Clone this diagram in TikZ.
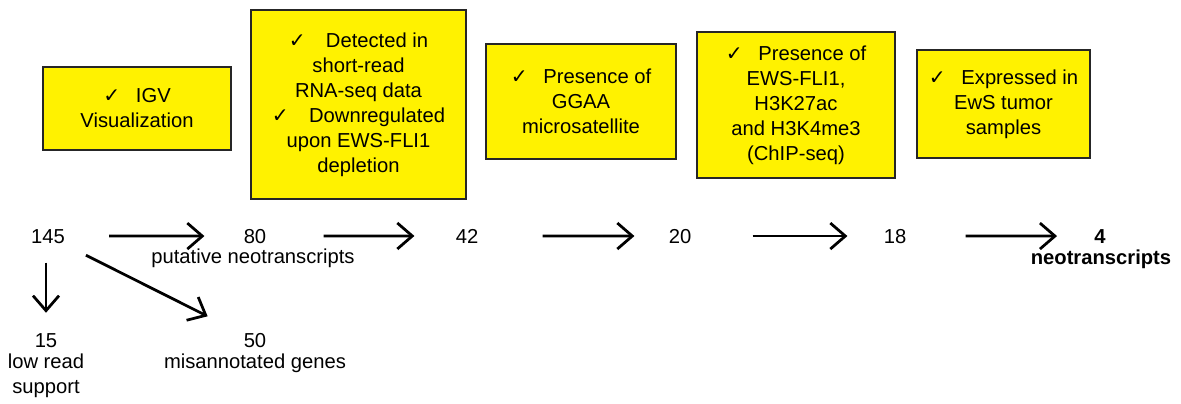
\documentclass[tikz,border=0pt]{standalone}
\usepackage{fontspec}
\setmainfont{Liberation Sans}
\newfontfamily\chkfont{DejaVu Sans}
\usetikzlibrary{arrows.meta}
\newcommand{\chk}{{\chkfont ✓}}

\begin{document}
\begin{tikzpicture}[x=0.02cm,y=-0.02cm,
  font=\fontsize{11.5}{14.2}\selectfont,
  box/.style={draw=black!85,line width=0.04cm,fill=yellow,align=center,inner sep=0cm},
  num/.style={inner sep=0cm,anchor=base},
  flow/.style={line width=0.055cm,-{Straight Barb[length=0.3cm,width=0.52cm]}}]

\useasboundingbox (0,0) rectangle (1181,403);

\draw (137,108.5) node[box,minimum width=3.76cm,minimum height=1.66cm] (igv)
  {\chk\enspace\ IGV\\Visualization};
\draw (358.5,104.5) node[box,minimum width=4.3cm,minimum height=3.78cm] (rnaseq)
  {\chk\quad Detected in\\short-read\\RNA-seq data\\\chk\quad Downregulated\\upon EWS-FLI1\\depletion};
\draw (581,101.5) node[box,minimum width=3.8cm,minimum height=2.3cm] (ggaa)
  {\chk\enspace\ Presence of\\GGAA\\microsatellite};
\draw (796,105) node[box,minimum width=3.96cm,minimum height=2.92cm] (chip)
  {\chk\enspace\ Presence of\\EWS-FLI1,\\H3K27ac\\and H3K4me3\\(ChIP-seq)};
\draw (1003.5,104) node[box,minimum width=3.46cm,minimum height=2.16cm] (tumor)
  {\chk\enspace\ Expressed in\\EwS tumor\\samples};

\draw (48,243) node[num] (n145) {145};
\draw (255,243) node[num] (n80) {80};
\draw (253,263) node[num] (lbl80) {putative neotranscripts};
\draw (467,243) node[num] (n42) {42};
\draw (680,243) node[num] (n20) {20};
\draw (895,243) node[num] (n18) {18};
\draw (1100,243) node[num,font=\fontsize{11.5}{14.2}\selectfont\bfseries] (n4) {4};
\draw (1101,264) node[num,font=\fontsize{11.5}{14.2}\selectfont\bfseries] (lbl4) {neotranscripts};
\draw (46,347) node[num] (n15) {15};
\draw (46,354) node[num,anchor=north,align=center] (lbl15) {low read\\support};
\draw (255,347) node[num] (n50) {50};
\draw (255,368) node[num] (lbl50) {misannotated genes};

\draw[flow,shorten <=0.88cm,shorten >=0.78cm] (n145) -- (n80);
\draw[flow,shorten <=1.14cm,shorten >=0.82cm] (n80) -- (n42);
\draw[flow,shorten <=1.28cm,shorten >=0.68cm] (n42) -- (n20);
\draw[flow,shorten <=1.22cm,shorten >=0.72cm] (n20) -- (n18);
\draw[flow,shorten <=1.18cm,shorten >=0.74cm] (n18) -- (n4);
\draw[flow,shorten <=0.38cm,shorten >=0.4cm] (n145.south -| n15) -- (n15.north);
\draw[flow,shorten <=0.52cm,shorten >=0.8cm] (n145) -- (n50);
\end{tikzpicture}
\end{document}
